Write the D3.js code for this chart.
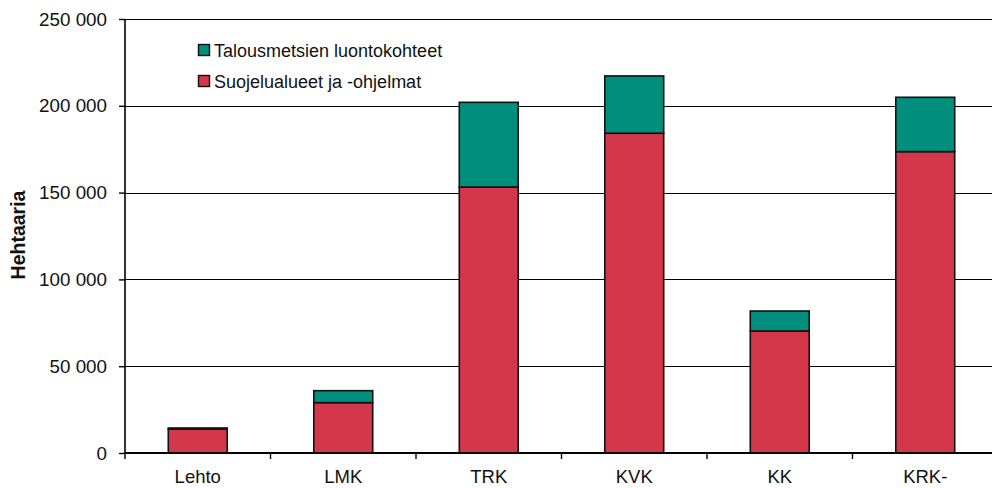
<!DOCTYPE html>
<html>
<head>
<meta charset="utf-8">
<script src="https://cdn.jsdelivr.net/npm/d3@7"></script>
<style>
  body { margin: 0; background: #fff; }
  svg { display: block; font-family: 'Liberation Sans', Arial, sans-serif; }
</style>
</head>
<body>
<svg width="992" height="488"></svg>
<script>
const categories = ['Lehto', 'LMK', 'TRK', 'KVK', 'KK', 'KRK-'];
const suojelu = [13700, 29000, 153200, 184200, 70300, 173600];
const talous = [700, 6900, 48800, 33000, 11500, 31300];
const yTicks = [0, 50000, 100000, 150000, 200000, 250000];
const seriesNames = ['Talousmetsien luontokohteet', 'Suojelualueet ja -ohjelmat'];
const colors = { suojelu: '#d4374a', talous: '#008f7c' };

const svg = d3.select('svg');
const margin = { left: 125, top: 19 };
const width = 873, height = 434;
const g = svg.append('g').attr('transform', `translate(${margin.left},${margin.top})`);

const x = d3.scaleBand().domain(categories).range([0, width]).paddingInner(0.595).paddingOuter(0.2975);
const xb = d3.scaleLinear().domain([0, categories.length]).range([0, width]);
const y = d3.scaleLinear().domain([0, 250000]).range([height, 0]);

// gridlines
g.selectAll('.grid').data(yTicks.slice(1)).enter().append('line')
    .attr('x1', 0).attr('x2', width)
    .attr('y1', d => Math.round(y(d)) + 0.5).attr('y2', d => Math.round(y(d)) + 0.5)
    .attr('stroke', '#000').attr('stroke-width', 1.2);

const rows = categories.map((c, i) => ({ c, s: suojelu[i], t: talous[i] }));

// red part
g.selectAll('.red').data(rows).enter().append('rect')
    .attr('x', d => x(d.c)).attr('width', x.bandwidth())
    .attr('y', d => y(d.s)).attr('height', d => y(0) - y(d.s))
    .attr('fill', colors.suojelu).attr('stroke', '#111').attr('stroke-width', 1.6);
// green part
g.selectAll('.green').data(rows).enter().append('rect')
    .attr('x', d => x(d.c)).attr('width', x.bandwidth())
    .attr('y', d => y(d.s + d.t)).attr('height', d => y(d.s) - y(d.s + d.t))
    .attr('fill', colors.talous).attr('stroke', '#111').attr('stroke-width', 1.6);

// y axis
const yAxis = g.append('g')
    .call(d3.axisLeft(y).tickValues(yTicks).tickSize(6).tickPadding(12)
        .tickFormat(d => d3.format(',')(d).replace(/,/g, ' ')));
yAxis.select('.domain').attr('stroke-width', 1.6).attr('d', `M0,${height}V0`);
yAxis.selectAll('.tick line').attr('stroke-width', 1.4);
yAxis.selectAll('text').attr('font-size', 18.8).attr('fill', '#111').style('font-family', 'Liberation Sans, Arial, sans-serif');

// x axis
const xAxis = g.append('g').attr('transform', `translate(0,${height})`);
xAxis.append('line').attr('x1', 0).attr('x2', width).attr('stroke', '#000').attr('stroke-width', 1.8);
xAxis.selectAll('.xt').data(d3.range(0, categories.length)).enter().append('line')
    .attr('x1', d => xb(d)).attr('x2', d => xb(d)).attr('y1', 0).attr('y2', 6)
    .attr('stroke', '#000').attr('stroke-width', 1.4);
xAxis.selectAll('.xl').data(categories).enter().append('text')
    .attr('x', d => x(d) + x.bandwidth() / 2).attr('y', 30)
    .attr('text-anchor', 'middle').attr('font-size', 18.5).attr('fill', '#111')
    .text(d => d);

// y title
svg.append('text')
    .attr('transform', 'translate(25,235) rotate(-90)')
    .attr('text-anchor', 'middle').attr('font-size', 19.5).attr('font-weight', 'bold').attr('fill', '#111')
    .text('Hehtaaria');

// legend
const legend = svg.append('g').attr('transform', 'translate(198,44)');
const legColors = [colors.talous, colors.suojelu];
seriesNames.forEach((n, i) => {
  legend.append('rect').attr('x', 0.5).attr('y', i * 31 + 0.5).attr('width', 11).attr('height', 11)
      .attr('fill', legColors[i]).attr('stroke', '#111').attr('stroke-width', 1.4);
  legend.append('text').attr('x', 16).attr('y', i * 31 + 12.5).attr('font-size', 18).attr('fill', '#111').text(n);
});
</script>
</body>
</html>
